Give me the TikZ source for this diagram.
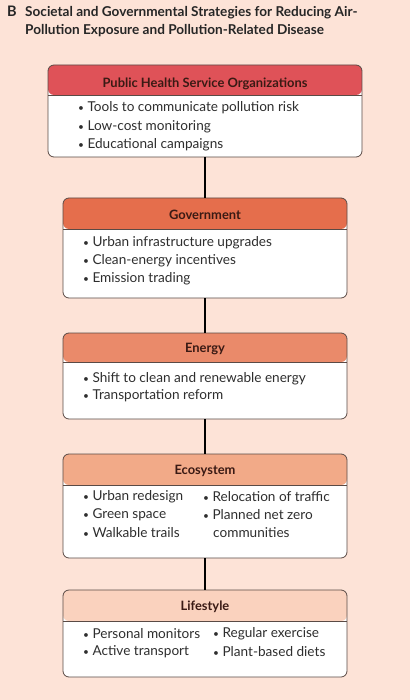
\documentclass[tikz,border=0pt]{standalone}
\usepackage{fontspec}
\usepackage{graphicx}
\setmainfont{Lato}
\definecolor{bgc}{HTML}{FDE3D7}
\definecolor{h1}{HTML}{DF5258}
\definecolor{h2}{HTML}{E56E4C}
\definecolor{h3}{HTML}{EA8A6A}
\definecolor{h4}{HTML}{F2AA88}
\definecolor{h5}{HTML}{FAD2BE}
\definecolor{edge}{HTML}{5A4A45}
\definecolor{txt}{HTML}{2E2E2E}
\definecolor{htxt}{HTML}{3A1A14}
\newcommand{\bul}{\raisebox{0.1ex}{\scalebox{0.75}{•}}\hspace{0.25em}}
\tikzset{
  box/.style 2 args={draw=edge, line width=0.8pt, fill=white, rounded corners=6pt, inner sep=0pt,
    path picture={\fill[#1] (path picture bounding box.north west) rectangle ([yshift=-#2pt]path picture bounding box.north east);
      \draw[edge, line width=0.8pt] ([yshift=-#2pt]path picture bounding box.north west) -- ([yshift=-#2pt]path picture bounding box.north east);}},
  hdr/.style={font=\fontsize{12.9}{14}\selectfont\bfseries, text=htxt, inner sep=0pt},
  item/.style={font=\fontsize{13.6}{15}\selectfont, text=txt, anchor=west, inner sep=0pt},
  link/.style={line width=2pt, black},
  ttl/.style={font=\fontsize{13.6}{18}\selectfont\bfseries, text=black!85, anchor=north west, inner sep=0pt, align=left}
}
\begin{document}
\begin{tikzpicture}[x=1pt,y=-1pt]
\fill[bgc] (0,0) rectangle (410,700);
\useasboundingbox (0,0) rectangle (410,700);
\node[ttl, font=\fontsize{14.5}{18}\selectfont\bfseries] (tb) at (7,5.5) {B};
\node[ttl] (tt) at (25,6) {Societal and Governmental Strategies for Reducing Air-\\Pollution Exposure and Pollution-Related Disease};

% boxes
\node[box={h1}{30}, minimum width=314pt, minimum height=92pt] (b1) at (205,111) {};
\node[box={h2}{31}, minimum width=284pt, minimum height=100pt] (b2) at (205,248) {};
\node[box={h3}{29}, minimum width=284pt, minimum height=86pt] (b3) at (205,376) {};
\node[box={h4}{31}, minimum width=284pt, minimum height=104pt] (b4) at (205,506) {};
\node[box={h5}{31}, minimum width=284pt, minimum height=87pt] (b5) at (205,633.5) {};

\draw[link] (b1.south) -- (b2.north);
\draw[link] (b2.south) -- (b3.north);
\draw[link] (b3.south) -- (b4.north);
\draw[link] (b4.south) -- (b5.north);

% headers
\node[hdr] (t1) at (205,84) {Public Health Service Organizations};
\node[hdr] (t2) at (205,215) {Government};
\node[hdr] (t3) at (205,349) {Energy};
\node[hdr] (t4) at (205,471) {Ecosystem};
\node[hdr] (t5) at (205,607) {Lifestyle};

% items
\node[item] (i11) at (78,108) {\bul Tools to communicate pollution risk};
\node[item] (i12) at (78,127) {\bul Low-cost monitoring};
\node[item] (i13) at (78,145) {\bul Educational campaigns};

\node[item] (i21) at (83,243) {\bul Urban infrastructure upgrades};
\node[item] (i22) at (83,261) {\bul Clean-energy incentives};
\node[item] (i23) at (83,279) {\bul Emission trading};

\node[item] (i31) at (83,379) {\bul Shift to clean and renewable energy};
\node[item] (i32) at (83,396) {\bul Transportation reform};

\node[item] (i41) at (83,497) {\bul Urban redesign};
\node[item] (i42) at (83,515) {\bul Green space};
\node[item] (i43) at (83,533) {\bul Walkable trails};
\node[item] (i44) at (203,497) {\bul Relocation of traffic};
\node[item] (i45) at (203,515) {\bul Planned net zero};
\node[item] (i46) at (213,533) {communities};

\node[item] (i51) at (83,634) {\bul Personal monitors};
\node[item] (i52) at (83,652) {\bul Active transport};
\node[item] (i53) at (213,634) {\bul Regular exercise};
\node[item] (i54) at (213,652) {\bul Plant-based diets};
\end{tikzpicture}
\end{document}
